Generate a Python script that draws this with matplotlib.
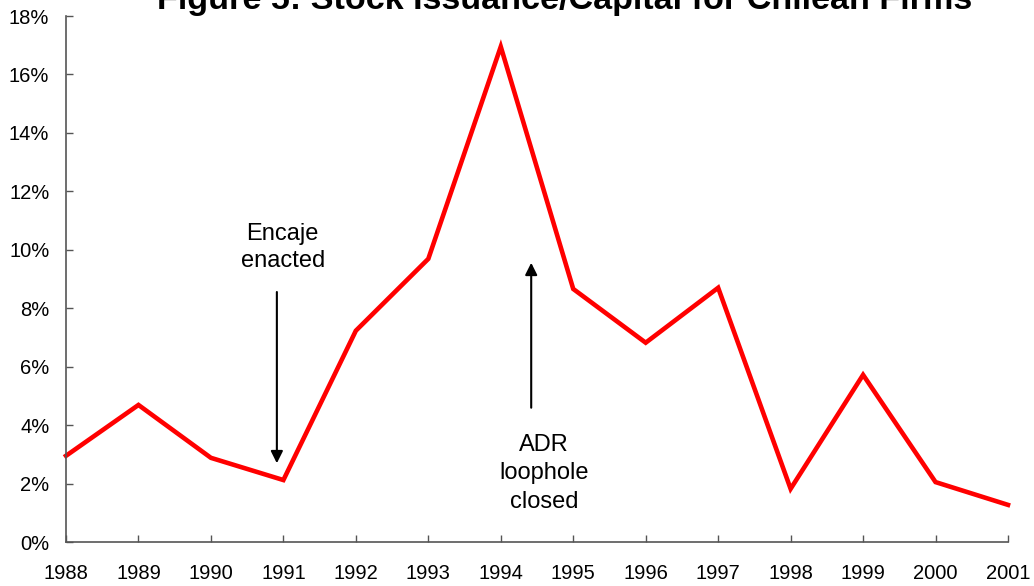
import matplotlib
matplotlib.use("Agg")
import matplotlib.pyplot as plt
from matplotlib.ticker import FuncFormatter, MultipleLocator

years = [1988, 1989, 1990, 1991, 1992, 1993, 1994, 1995, 1996, 1997, 1998, 1999, 2000, 2001]
issuance = [2.95, 4.69, 2.88, 2.12, 7.23, 9.69, 16.95, 8.66, 6.82, 8.70, 1.82, 5.72, 2.05, 1.27]
title = "Figure 5: Stock Issuance/Capital for Chilean Firms"
encaje_label = "Encaje\nenacted"
adr_label = "ADR\nloophole\nclosed"

plt.rcParams['font.family'] = ['Liberation Sans', 'DejaVu Sans']

fig = plt.figure(figsize=(10.34, 5.86), dpi=100)
ax = fig.add_axes([66/1034, 1-542/586, (1008-66)/1034, (542-16)/586])

ax.plot(years, issuance, color='#FF0000', linewidth=3.3, clip_on=False, solid_joinstyle='miter')

ax.set_xlim(1988, 2001)
ax.set_ylim(0, 18)
ax.set_xticks(years)
ax.yaxis.set_major_locator(MultipleLocator(2))
ax.yaxis.set_major_formatter(FuncFormatter(lambda v, p: f"{int(round(v))}%"))
ax.tick_params(axis='both', direction='in', length=5, width=1, colors='#555555', labelcolor='black', labelsize=14.5)
ax.tick_params(axis='x', pad=16)
ax.tick_params(axis='y', pad=12)
for s in ['top', 'right']:
    ax.spines[s].set_visible(False)
for s in ['left', 'bottom']:
    ax.spines[s].set_color('#555555')
    ax.spines[s].set_linewidth(1.2)

# annotations
ax.annotate('', xy=(1990.91, 2.6), xytext=(1990.91, 8.65),
            arrowprops=dict(arrowstyle='-|>', color='black', lw=1.5, mutation_scale=18))
ax.text(1990.99, (542-223)/29.22, encaje_label, ha='center', va='top', fontsize=17, linespacing=1.32)
ax.annotate('', xy=(1994.42, 9.65), xytext=(1994.42, 4.5),
            arrowprops=dict(arrowstyle='-|>', color='black', lw=1.5, mutation_scale=18))
ax.text(1994.6, (542-434)/29.22, adr_label, ha='center', va='top', fontsize=17, linespacing=1.38)

fig.text(565/1034, 1 - 9/586, title, ha='center', va='baseline', fontsize=24.6, fontweight='bold')

fig.savefig('out.png', dpi=100)
